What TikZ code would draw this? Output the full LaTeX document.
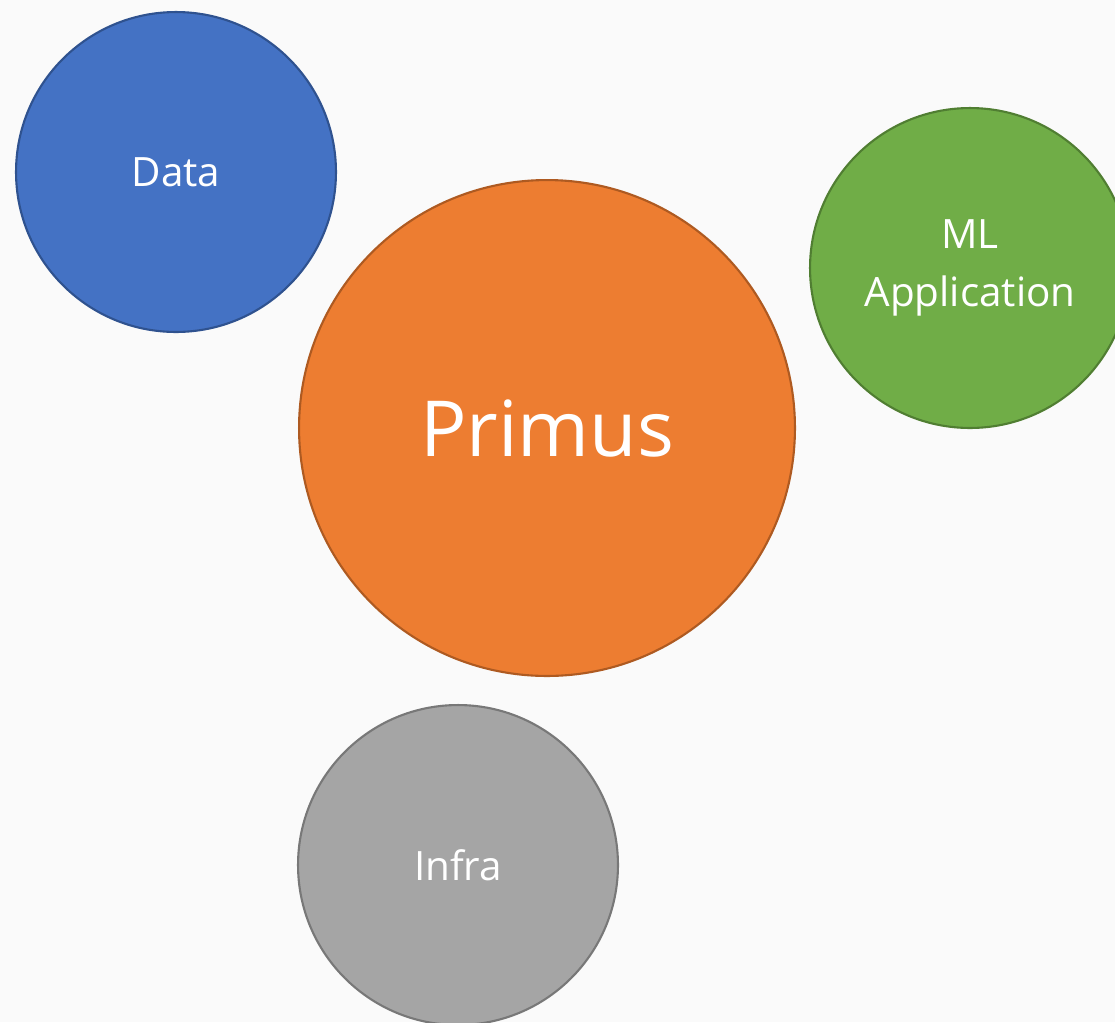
\documentclass[tikz,border=0pt]{standalone}
\usepackage{fontspec}
\setmainfont{Open Sans}
\definecolor{datablue}{HTML}{4472C4}
\definecolor{databorder}{HTML}{2F528F}
\definecolor{primusorange}{HTML}{ED7D31}
\definecolor{primusborder}{HTML}{AE5A21}
\definecolor{mlgreen}{HTML}{70AD47}
\definecolor{mlborder}{HTML}{507E32}
\definecolor{infragray}{HTML}{A5A5A5}
\definecolor{infraborder}{HTML}{787878}
\definecolor{pagebg}{HTML}{FAFAFA}
\tikzset{
	bubble/.style={circle,inner sep=0pt,line width=1.2pt,text=white,align=center},
}
\begin{document}
\begin{tikzpicture}[x=0.02cm,y=-0.02cm]
				\useasboundingbox (0,0) rectangle (1115,1022);
				\clip (0,0) rectangle (1115,1022);
				\fill[pagebg] (0,0) rectangle (1115,1022);
				\node[bubble,fill=datablue,draw=databorder,minimum size=6.4cm,font=\fontsize{23}{28}\selectfont]
				(data) at (176,172) {Data};
				\node[bubble,fill=primusorange,draw=primusborder,minimum size=9.92cm,font=\fontsize{44}{52}\selectfont]
				(primus) at (547,428) {Primus};
				\node[bubble,fill=mlgreen,draw=mlborder,minimum size=6.4cm,font=\fontsize{23}{33}\selectfont]
				(mlapp) at (970,268) {ML\\Application};
				\node[bubble,fill=infragray,draw=infraborder,minimum size=6.4cm,font=\fontsize{23}{28}\selectfont]
				(infra) at (458,865) {Infra};
			\end{tikzpicture}
\end{document}
